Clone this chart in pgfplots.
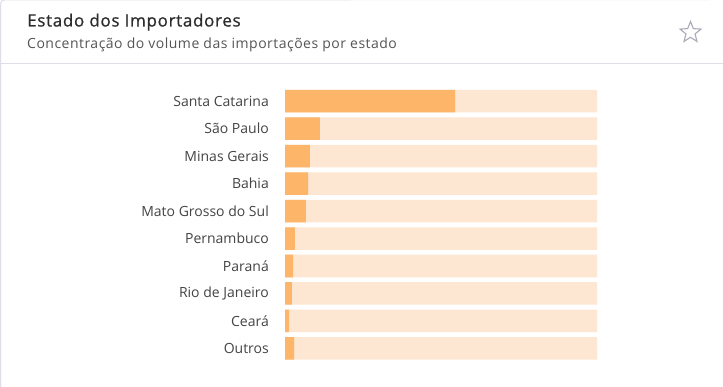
\documentclass[border=0pt]{standalone}
\usepackage{pgfplots}
\pgfplotsset{compat=1.18}
\usepackage{pgfplotstable}
\usepackage{fontspec}
\setmainfont{Open Sans}
\usetikzlibrary{shapes.geometric}
\definecolor{barfg}{RGB}{253,181,106}
\definecolor{barbg}{RGB}{254,231,210}
\definecolor{titlec}{RGB}{45,45,45}
\definecolor{subc}{RGB}{85,85,85}
\definecolor{labc}{RGB}{68,68,68}
\definecolor{linec}{RGB}{222,222,234}
\definecolor{starc}{RGB}{170,170,184}
\pgfplotstableread{
idx value track
0 54.5 100
1 11.2 100
2 8.0 100
3 7.4 100
4 6.7 100
5 3.2 100
6 2.6 100
7 2.2 100
8 1.3 100
9 2.9 100
}\datatable
\begin{document}
\begin{tikzpicture}
\useasboundingbox (0pt,0pt) rectangle (723pt,387pt);
\fill[white] (0pt,0pt) rectangle (723pt,387pt);
\draw[linec, line width=1pt] (0.5pt,0pt) -- (0.5pt,383pt) arc[start angle=180,end angle=90,radius=4pt] -- (723pt,387.5pt);
\draw[linec, line width=1pt] (0.5pt,323pt) -- (723pt,323pt);
\node[anchor=base west, inner sep=0pt, text=titlec, font=\fontsize{17}{19}\selectfont\addfontfeature{LetterSpace=4,FakeBold=0.8}] at (27pt,360.5pt) {Estado dos Importadores};
\node[anchor=base west, inner sep=0pt, text=subc, font=\fontsize{14}{16}\selectfont\addfontfeature{LetterSpace=3.5}] at (27pt,338pt) {Concentração do volume das importações por estado};
\node[star, star points=5, star point ratio=2.3, draw=starc, line width=1.1pt, minimum size=22pt, inner sep=0pt] at (690.5pt,354.5pt) {};
\begin{axis}[
  at={(285pt,24.75pt)}, anchor=south west,
  scale only axis, width=312pt, height=275pt,
  xmin=0, xmax=100, ymin=-0.5, ymax=9.5,
  y dir=reverse,
  axis lines=left, axis line style={draw=none},
  xtick=\empty,
  xbar, bar width=22.5pt, bar shift=0pt,
  ytick={0,...,9},
  yticklabels={Santa Catarina,São Paulo,Minas Gerais,Bahia,Mato Grosso do Sul,Pernambuco,Paraná,Rio de Janeiro,Ceará,Outros},
  yticklabel style={text=labc, font=\fontsize{14}{16}\selectfont, anchor=east, inner sep=0pt, xshift=-16pt},
  major tick length=0pt, tick style={draw=none},
]
\addplot[draw=none, fill=barbg] table[x=track, y=idx] {\datatable};
\addplot[draw=none, fill=barfg] table[x=value, y=idx] {\datatable};
\end{axis}
\end{tikzpicture}
\end{document}
